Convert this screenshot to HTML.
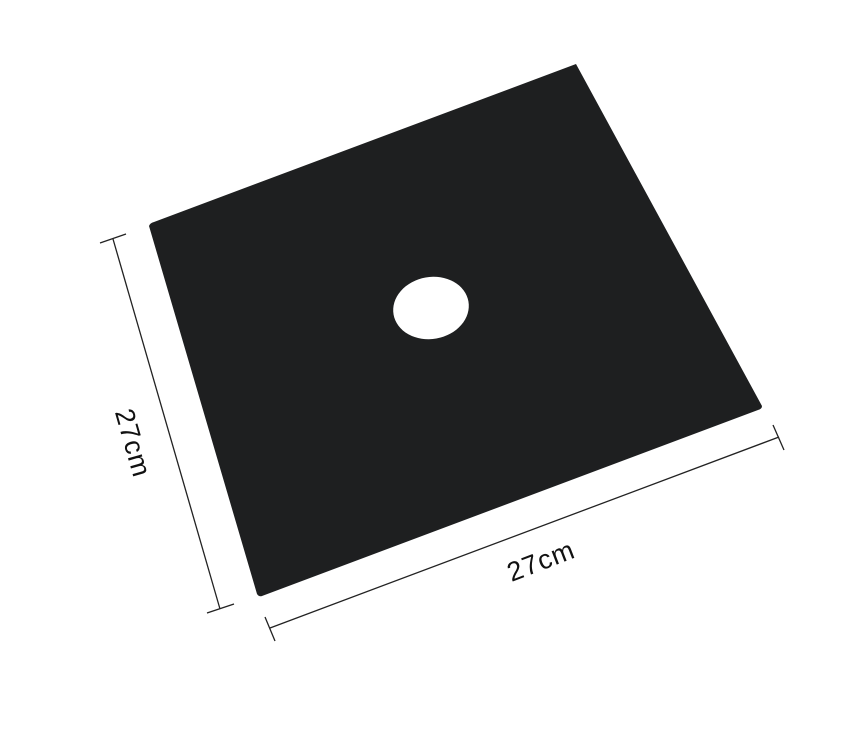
<!DOCTYPE html>
<html><head><meta charset="utf-8">
<style>html,body{margin:0;padding:0;background:#fff;}svg{display:block}</style>
</head><body>
<svg width="862" height="733" viewBox="0 0 862 733">
  <rect x="0" y="0" width="862" height="733" fill="#fff"/>
  <path d="M149,226 Q150,223 154,222 L576,64 L762,406 Q762,409 758,410 L262,596 Q259,597 257,594 Z" fill="#1e1f20"/>
  <ellipse cx="431" cy="308" rx="38" ry="31" transform="rotate(-10 431 308)" fill="#fff"/>
  <g stroke="#222" stroke-width="1.3" fill="none">
    <line x1="113" y1="239" x2="220" y2="609"/>
    <line x1="100" y1="243" x2="126" y2="234"/>
    <line x1="207" y1="613" x2="234" y2="604"/>
  </g>
  <g stroke="#222" stroke-width="1.3" fill="none">
    <line x1="270" y1="628" x2="779" y2="437"/>
    <line x1="265" y1="617" x2="275" y2="641"/>
    <line x1="773" y1="425" x2="784" y2="450"/>
  </g>
  <text x="133" y="443" font-family="Liberation Sans, sans-serif" font-size="27" letter-spacing="1" fill="#111" text-anchor="middle" dominant-baseline="central" transform="rotate(74 133 443)">27cm</text>
  <text x="541" y="561" font-family="Liberation Sans, sans-serif" font-size="27" letter-spacing="1" fill="#111" text-anchor="middle" dominant-baseline="central" transform="rotate(-21 541 561)">27cm</text>
</svg>
</body></html>
